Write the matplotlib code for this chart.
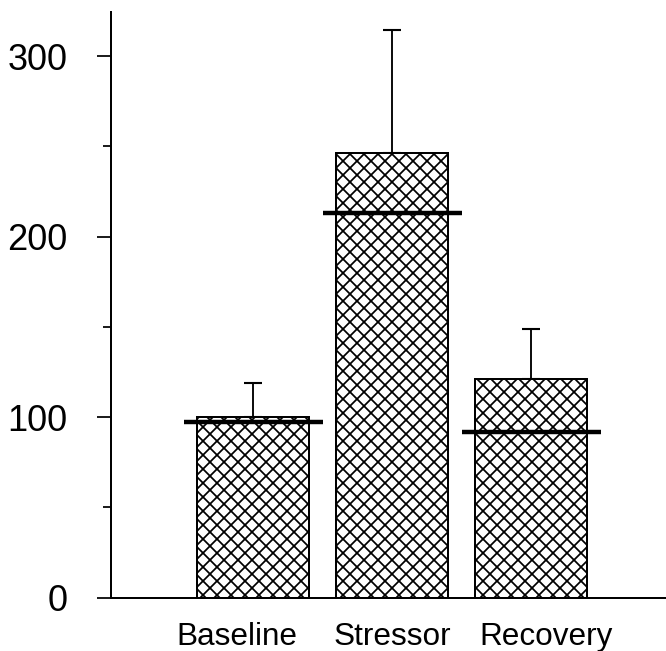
import matplotlib.pyplot as plt
import matplotlib.transforms as mtransforms
import numpy as np

plt.rcParams['font.family'] = ['Liberation Sans', 'DejaVu Sans']
plt.rcParams['hatch.linewidth'] = 1.5

# Values
categories = ['Baseline', 'Stressor', 'Recovery']
means = [100, 246.5, 121]
upper = [119, 314.5, 148.7]
medians = [97.5, 213.3, 91.6]

DPI = 84
fig = plt.figure(figsize=(666 / DPI, 651 / DPI), dpi=DPI)
ax = fig.add_axes([111 / 666, 53.3 / 651, 555 / 666, 586 / 651])

x = np.arange(len(categories))
err = [np.zeros(len(means)), np.array(upper) - np.array(means)]

ax.bar(x, means, width=0.8, color='white', edgecolor='black',
       linewidth=1.7, hatch='xx', zorder=2)
ax.errorbar(x, means, yerr=err, fmt='none', ecolor='black',
            elinewidth=1.6, capsize=7.5, capthick=1.8, zorder=1)
ax.hlines(medians, x - 0.5, x + 0.5, colors='black', linewidth=3.8, zorder=3)

ax.set_xlim(-1.0216, 2.971)
ax.set_ylim(0, 324.6)

ax.spines['top'].set_visible(False)
ax.spines['right'].set_visible(False)
ax.spines['left'].set_linewidth(1.7)
ax.spines['bottom'].set_linewidth(1.7)

ax.set_yticks([0, 100, 200, 300])
ax.set_yticks([50, 150, 250], minor=True)
ax.tick_params(axis='y', which='major', length=12, width=1.5, labelsize=31, pad=25)
ax.tick_params(axis='y', which='minor', length=7, width=1.5)

ax.set_xticks(x)
ax.set_xticklabels(categories)
ax.tick_params(axis='x', length=0, labelsize=27, pad=21)

# outer labels sit a little off their bar centres in the original
for lab, dx in zip(ax.get_xticklabels(), [-16, 0, 15]):
    lab.set_transform(lab.get_transform() +
                      mtransforms.ScaledTranslation(dx / DPI, 0, fig.dpi_scale_trans))

fig.savefig('out.png', dpi=DPI)
